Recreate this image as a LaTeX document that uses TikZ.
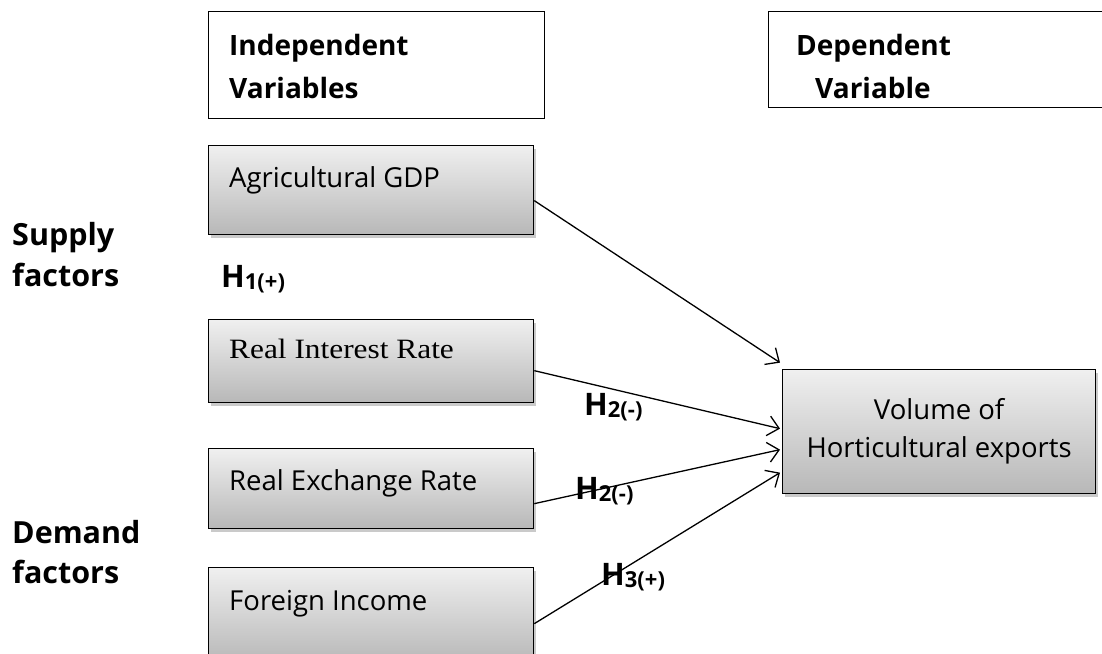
\documentclass[tikz,border=0pt]{standalone}
\usepackage{fontspec}
\setmainfont{Open Sans}
\newfontfamily\serifbox[FakeStretch=1.12]{Liberation Serif}
\usetikzlibrary{arrows.meta,shadows}
\newcommand{\hsub}[1]{{\fontsize{22}{22}\selectfont\raisebox{-2pt}{#1}}}
\begin{document}
\begin{tikzpicture}[x=1pt,y=-1pt,
  headbox/.style={draw, line width=1.2pt, fill=white, anchor=north west, inner sep=0pt},
  varbox/.style={draw, line width=1.3pt, top color=black!6, bottom color=black!28,
    anchor=north west, inner sep=0pt,
    drop shadow={shadow xshift=2pt, shadow yshift=-3pt, opacity=0.35, fill=black!60}},
  boxtext/.style={anchor=base west, inner sep=0pt, font=\fontsize{27.5}{38}\selectfont},
  headtext/.style={anchor=base west, inner sep=0pt, align=left, font=\fontsize{28}{43}\selectfont\bfseries},
  sidetext/.style={anchor=base west, inner sep=0pt, align=left, font=\fontsize{30.5}{41}\selectfont\bfseries},
  hyp/.style={anchor=base west, inner sep=0pt, font=\fontsize{31}{32}\selectfont\bfseries},
  link/.style={line width=1.3pt, -{Straight Barb[length=11pt,width=20pt,line width=1.3pt]}}
]
\useasboundingbox (0,0) rectangle (1102,653);

% header boxes
\node[headbox, minimum width=336pt, minimum height=107pt] (indep) at (208,11) {};
\node[headtext] (indept) at (229,98) {Independent\\Variables};
\node[headbox, minimum width=360pt, minimum height=96pt] (dep) at (768,11) {};
\node[headtext] (dept) at (796,98) {Dependent\\\hspace*{19pt}Variable};

% variable boxes
\node[varbox, minimum width=325pt, minimum height=89pt] (agri) at (208,145) {};
\node[boxtext] (agrit) at (229,187) {Agricultural GDP};
\node[varbox, minimum width=325pt, minimum height=83pt] (inter) at (208,319) {};
\node[boxtext, font=\fontsize{28}{32}\serifbox] (intert) at (229,358) {Real Interest Rate};
\node[varbox, minimum width=325pt, minimum height=80pt] (exch) at (208,448) {};
\node[boxtext] (excht) at (229,490) {Real Exchange Rate};
\node[varbox, minimum width=325pt, minimum height=95pt] (forin) at (208,567) {};
\node[boxtext] (forint) at (229,610) {Foreign Income};

\node[varbox, minimum width=313pt, minimum height=124pt, align=center,
  font=\fontsize{27.5}{38}\selectfont] (vol) at (782,369) {Volume of\\Horticultural exports};

% side labels
\node[sidetext] (supply) at (12,286) {Supply\\factors};
\node[sidetext, font=\fontsize{30.5}{40}\selectfont\bfseries] (demand) at (12,583) {Demand\\factors};

% connectors
\draw[link] ([yshift=-10.5pt]agri.east) -- ([xshift=-2pt,yshift=69pt]vol.west);
\draw[link] ([yshift=-9.5pt]inter.east) -- ([xshift=-2pt,yshift=3pt]vol.west);
\draw[link] ([yshift=-15pt]exch.east) -- ([xshift=-2pt,yshift=-18pt]vol.west);
\draw[link] ([yshift=-8.5pt]forin.east) -- ([xshift=-2pt,yshift=-41pt]vol.west);

% hypothesis labels
\node[hyp] (h1) at (221,287) {H\hsub{1(+)}};
\node[hyp] (h2a) at (584,415) {H\hsub{2(-)}};
\node[hyp] (h2b) at (575,499) {H\hsub{2(-)}};
\node[hyp] (h3) at (601,585) {H\hsub{3(+)}};
\end{tikzpicture}
\end{document}
